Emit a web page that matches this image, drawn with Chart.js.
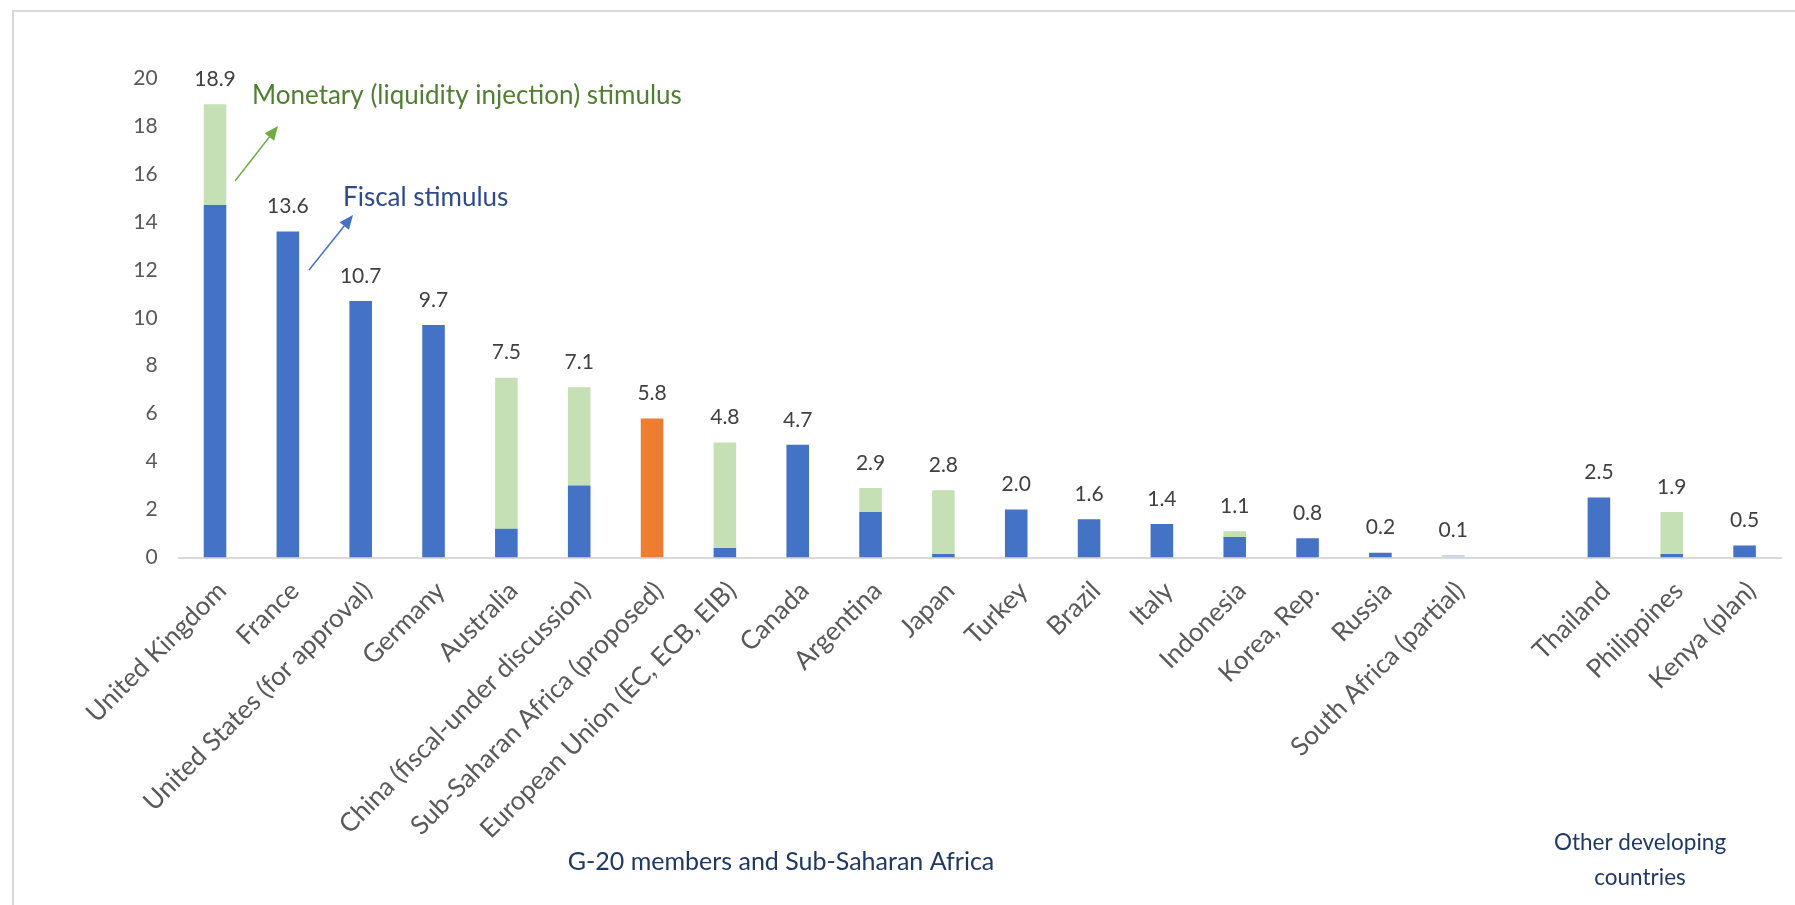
<!DOCTYPE html>
<html>
<head>
<meta charset="utf-8">
<title>Stimulus packages</title>
<script src="https://cdn.jsdelivr.net/npm/chart.js@4.4.1/dist/chart.umd.min.js"></script>
<style>
  html, body { margin: 0; padding: 0; background: #fff; }
  #wrap { position: relative; width: 1795px; height: 905px; }
</style>
</head>
<body>
<div id="wrap"><canvas id="stimulus-chart"></canvas></div>
<script>
// Fiscal vs monetary stimulus, % of GDP

const countries = [
  'United Kingdom', 'France', 'United States (for approval)', 'Germany', 'Australia',
  'China (fiscal-under discussion)', 'Sub-Saharan Africa (proposed)', 'European Union (EC, ECB, EIB)',
  'Canada', 'Argentina', 'Japan', 'Turkey', 'Brazil', 'Italy', 'Indonesia', 'Korea, Rep.',
  'Russia', 'South Africa (partial)', '', 'Thailand', 'Philippines', 'Kenya (plan)'
];
const fiscal = [14.7, 13.6, 10.7, 9.7, 1.2, 3.0, null, 0.4, 4.7, 1.9, 0.15, 2.0, 1.6, 1.4, 0.85, 0.8, 0.2, 0.1, null, 2.5, 0.15, 0.5];
const monetary = [4.2, 0, 0, 0, 6.3, 4.1, null, 4.4, 0, 1.0, 2.65, 0, 0, 0, 0.25, 0, 0, 0, null, 0, 1.75, 0];
const proposed = [null, null, null, null, null, null, 5.8, null, null, null, null, null, null, null, null, null, null, null, null, null, null, null];
const totals = [18.9, 13.6, 10.7, 9.7, 7.5, 7.1, 5.8, 4.8, 4.7, 2.9, 2.8, 2.0, 1.6, 1.4, 1.1, 0.8, 0.2, 0.1, null, 2.5, 1.9, 0.5];
const yTicks = [0, 2, 4, 6, 8, 10, 12, 14, 16, 18, 20];

const FONT = 'Lato, "Open Sans", sans-serif';
const BLUE = '#4472C4';
const GREEN = '#C5E0B4';
const ORANGE = '#ED7D31';

// South Africa's tiny bar is a pale blue in the original
const fiscalColors = countries.map(c => c === 'South Africa (partial)' ? '#C9D8F0' : BLUE);

const overlay = {
  id: 'overlay',
  afterDatasetsDraw(chart) {
    const { ctx, scales: { x, y } } = chart;
    ctx.save();

    // total value above each bar
    ctx.font = `21px ${FONT}`;
    ctx.fillStyle = '#404040';
    ctx.textAlign = 'center';
    ctx.textBaseline = 'middle';
    totals.forEach((v, i) => {
      if (v == null) return;
      ctx.fillText(v.toFixed(1), x.getPixelForValue(i), y.getPixelForValue(v) - 25);
    });

    // annotations
    ctx.textAlign = 'left';
    ctx.font = `26px ${FONT}`;
    ctx.fillStyle = '#507E32';
    ctx.fillText('Monetary (liquidity injection) stimulus', 252, 96);
    ctx.fillStyle = '#2E4A8C';
    ctx.fillText('Fiscal stimulus', 343, 198);

    arrow(ctx, 235, 181, 278, 126, '#70AD47');
    arrow(ctx, 309, 270, 353, 215, BLUE);

    // group captions
    ctx.textAlign = 'center';
    ctx.font = `25px ${FONT}`;
    ctx.fillStyle = '#1F3864';
    ctx.fillText('G-20 members and Sub-Saharan Africa', 781, 862);
    ctx.font = `22.5px ${FONT}`;
    ctx.fillText('Other developing', 1640, 843);
    ctx.fillText('countries', 1640, 878);

    // chart frame
    ctx.strokeStyle = '#D9D9D9';
    ctx.lineWidth = 2;
    ctx.beginPath();
    ctx.moveTo(13, 905);
    ctx.lineTo(13, 11);
    ctx.lineTo(1795, 11);
    ctx.stroke();
    ctx.restore();
  }
};

function arrow(ctx, x1, y1, x2, y2, color) {
  const ang = Math.atan2(y2 - y1, x2 - x1);
  const len = 14, half = 6;
  const bx = x2 - len * Math.cos(ang), by = y2 - len * Math.sin(ang);
  ctx.strokeStyle = color;
  ctx.fillStyle = color;
  ctx.lineWidth = 1.5;
  ctx.beginPath();
  ctx.moveTo(x1, y1);
  ctx.lineTo(bx, by);
  ctx.stroke();
  ctx.beginPath();
  ctx.moveTo(x2, y2);
  ctx.lineTo(bx + half * Math.sin(ang), by - half * Math.cos(ang));
  ctx.lineTo(bx - half * Math.sin(ang), by + half * Math.cos(ang));
  ctx.closePath();
  ctx.fill();
}

const barOpts = { barPercentage: 0.31, categoryPercentage: 1, borderWidth: 0 };

new Chart(document.getElementById('stimulus-chart'), {
  type: 'bar',
  data: {
    labels: countries,
    datasets: [
      { label: 'Fiscal stimulus', data: fiscal, backgroundColor: fiscalColors, ...barOpts },
      { label: 'Monetary (liquidity injection) stimulus', data: monetary, backgroundColor: GREEN, ...barOpts },
      { label: 'Proposed', data: proposed, backgroundColor: ORANGE, ...barOpts }
    ]
  },
  options: {
    responsive: true,
    maintainAspectRatio: false,
    animation: false,
    layout: { padding: { top: 78, right: 14, left: 0, bottom: 0 } },
    plugins: {
      legend: { display: false },
      tooltip: { enabled: false }
    },
    scales: {
      x: {
        stacked: true,
        grid: { display: false, drawTicks: false },
        border: { display: true, color: '#D9D9D9', width: 2 },
        ticks: {
          autoSkip: false,
          maxRotation: 45,
          minRotation: 45,
          padding: 18,
          labelOffset: 7,
          color: '#595959',
          font: { size: 26, family: FONT }
        },
        afterFit: s => { s.height = 347.5; }
      },
      y: {
        stacked: true,
        min: 0,
        max: 20,
        grid: { display: false, drawTicks: false },
        border: { display: false },
        afterBuildTicks: s => { s.ticks = yTicks.map(v => ({ value: v })); },
        ticks: {
          padding: 21,
          color: '#595959',
          font: { size: 21, family: FONT }
        },
        afterFit: s => { s.width = 178.6; }
      }
    }
  },
  plugins: [overlay]
});
</script>
</body>
</html>
